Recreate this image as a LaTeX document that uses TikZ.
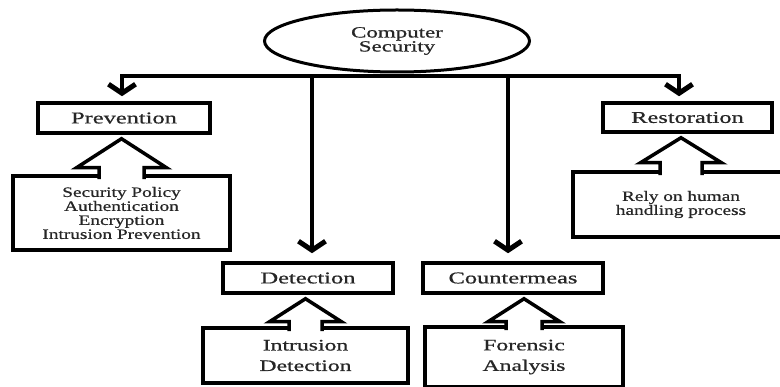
\documentclass[tikz,border=0pt]{standalone}
\usepackage{fontspec}
\setmainfont{Liberation Serif}
\newfontfamily\labfont[FakeStretch=1.48,FakeBold=0.7]{Liberation Serif}
\newfontfamily\smfont[FakeStretch=1.35,FakeBold=0.6]{Liberation Serif}
\usetikzlibrary{arrows.meta,shapes.geometric,calc}
\newcommand\hollowup[5]{%
  \filldraw[hollow] let \p1=(#1.south), \p2=(#2.north) in
    (\x2-#5pt,\y2-5pt) -- (\x2-#5pt,\y1-4pt-#3pt) -- (\x2-#4pt,\y1-4pt-#3pt)
    -- (\x2,\y1-4pt) -- (\x2+#4pt,\y1-4pt-#3pt) -- (\x2+#5pt,\y1-4pt-#3pt)
    -- (\x2+#5pt,\y2-5pt);
}
\begin{document}
\begin{tikzpicture}[x=1pt,y=-1pt,
  box/.style={draw, line width=3.5pt, rectangle, inner sep=0pt, text=black!85, align=center},
  lab/.style={box, font=\labfont\fontsize{16.5}{20}\selectfont},
  small/.style={box, font=\smfont\fontsize{14.3}{14}\selectfont},
  big/.style={box, font=\labfont\fontsize{16}{20.5}\selectfont},
  hollow/.style={draw=black, fill=white, line width=3.5pt, line join=miter},
  bus/.style={line width=4pt, line cap=rect},
  conn/.style={line width=4.5pt, -{Straight Barb[length=9pt,width=27pt,line width=5pt]}},
]
\useasboundingbox (0,0) rectangle (780,387);
\fill[white] (0,0) rectangle (780,387);

\node[ellipse, draw, line width=3pt, inner sep=0pt, minimum width=265, minimum height=62,
      align=center, text=black!85, font=\labfont\fontsize{15.5}{14}\selectfont]
      (cs) at (397,41) {Computer\\Security};

\node[lab, minimum width=172, minimum height=30] (prev) at (124,118) {Prevention};
\node[lab, minimum width=169, minimum height=29] (rest) at (687.5,117.5) {Restoration};
\node[lab, minimum width=170, minimum height=30] (det) at (308,278) {Detection};
\node[lab, minimum width=180, minimum height=30] (cm) at (513,278) {Countermeas};

\node[small, minimum width=217, minimum height=74] (sec) at (121.5,213)
  {Security Policy\\Authentication\\Encryption\\Intrusion Prevention};
\node[small, minimum width=216, minimum height=65] (rely) at (681,204.5)
  {Rely on human\\handling process};
\node[big, minimum width=205, minimum height=55] (ids) at (305.5,355.5)
  {Intrusion\\Detection};
\node[big, minimum width=198, minimum height=60] (fa) at (524,357)
  {Forensic\\Analysis};

\coordinate (bl) at (122,76);
\coordinate (br) at (679,76);
\coordinate (dl) at (312,76);
\coordinate (cl) at (508,76);
\draw[bus] (bl) -- (br);
\draw[conn, shorten >=5pt] (bl) -- (bl |- prev.north);
\draw[conn, shorten >=5pt] (br) -- (br |- rest.north);
\draw[conn, shorten >=8pt] (dl) -- (dl |- det.north);
\draw[conn, shorten >=8pt] (cl) -- (cl |- cm.north);

\hollowup{prev}{sec}{29}{45}{22.5}
\hollowup{rest}{rely}{25}{40.5}{21}
\hollowup{det}{ids}{23}{36}{16.5}
\hollowup{cm}{fa}{23}{36}{18}
\end{tikzpicture}
\end{document}
